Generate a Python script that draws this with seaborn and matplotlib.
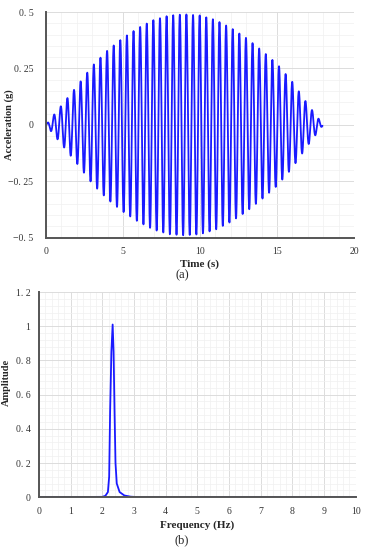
import numpy as np
import pandas as pd
import matplotlib
matplotlib.use("Agg")
import matplotlib.pyplot as plt
import seaborn as sns
from matplotlib.ticker import MultipleLocator

# envelope of the acceleration record
env_time = [0, 1, 2, 3, 4, 5, 6, 7, 8, 9, 10, 11, 12, 13, 14, 15, 16, 17, 18]
env_amp = [0.0, 0.085, 0.17, 0.26, 0.33, 0.385, 0.43, 0.465, 0.485, 0.49,
           0.485, 0.465, 0.43, 0.385, 0.33, 0.27, 0.19, 0.09, 0.0]
carrier_hz = 2.33
duration = 17.95

# spectrum points
freq = [0, 2.0, 2.1, 2.18, 2.22, 2.25, 2.29, 2.33, 2.36, 2.39, 2.42, 2.46,
        2.55, 2.7, 2.9, 3.2, 10]
amp = [0, 0.002, 0.008, 0.03, 0.12, 0.5, 0.85, 1.01, 0.85, 0.5, 0.2, 0.08,
       0.03, 0.01, 0.003, 0.0, 0.0]

t = np.linspace(0, duration, 4000)
acc = np.interp(t, env_time, env_amp) * np.sin(2 * np.pi * carrier_hz * t)
sig = pd.DataFrame({"t": t, "acc": acc})
spec = pd.DataFrame({"f": freq, "a": amp})

sns.set_style("white")
plt.rcParams["font.family"] = ["Liberation Serif", "DejaVu Serif"]

blue = "#1a1aff"
fig = plt.figure(figsize=(3.7, 5.5), dpi=100)
ax1 = fig.add_axes([0.124, 0.568, 0.833, 0.41])
ax2 = fig.add_axes([0.105, 0.096, 0.856, 0.373])

sns.lineplot(data=sig, x="t", y="acc", color=blue, lw=1.3, ax=ax1)
sns.lineplot(data=spec, x="f", y="a", color=blue, lw=1.3, ax=ax2)

def style(ax):
    for s in ["top", "right"]:
        ax.spines[s].set_visible(False)
    for s in ["left", "bottom"]:
        ax.spines[s].set_color("#555555")
        ax.spines[s].set_linewidth(1.4)
    ax.grid(True, which="major", color="#dcdcdc", lw=0.7)
    ax.grid(True, which="minor", color="#f0f0f0", lw=0.5)
    ax.set_axisbelow(True)
    ax.tick_params(which="major", direction="out", length=3, width=1,
                   color="#555555", labelsize=7, labelcolor="#333333", pad=4)
    ax.tick_params(which="minor", length=0)

ax1.set_xlim(0, 20)
ax1.set_ylim(-0.5, 0.5)
ax1.set_xticks([0, 5, 10, 15, 20])
ax1.set_yticks([0.5, 0.25, 0, -0.25, -0.5])
ax1.set_yticklabels(["0. 5", "0. 25", "0", "\u22120. 25", "\u22120. 5"])
ax1.xaxis.set_minor_locator(MultipleLocator(1))
ax1.yaxis.set_minor_locator(MultipleLocator(0.05))
style(ax1)
ax1.tick_params(axis="y", pad=6)
ax1.set_xlabel("Time (s)", fontsize=8, fontweight="bold", labelpad=2)
ax1.set_ylabel("Acceleration (g)", fontsize=7.5, fontweight="bold")
ax1.yaxis.set_label_coords(-0.104, 0.5)

ax2.set_xlim(0, 10)
ax2.set_ylim(0, 1.2)
ax2.set_xticks(range(11))
ax2.set_yticks([0, 0.2, 0.4, 0.6, 0.8, 1.0, 1.2])
ax2.set_yticklabels(["0", "0. 2", "0. 4", "0. 6", "0. 8", "1", "1. 2"])
ax2.xaxis.set_minor_locator(MultipleLocator(0.2))
ax2.yaxis.set_minor_locator(MultipleLocator(0.04))
style(ax2)
ax2.tick_params(axis="y", pad=3)
ax2.set_xlabel("Frequency (Hz)", fontsize=8, fontweight="bold", labelpad=3)
ax2.set_ylabel("Amplitude", fontsize=7.5, fontweight="bold")
ax2.yaxis.set_label_coords(-0.088, 0.557)

fig.text(0.492, 0.499, "(a)", ha="center", va="center", fontsize=9)
fig.text(0.492, 0.018, "(b)", ha="center", va="center", fontsize=9)

fig.savefig("out.png", dpi=100)
